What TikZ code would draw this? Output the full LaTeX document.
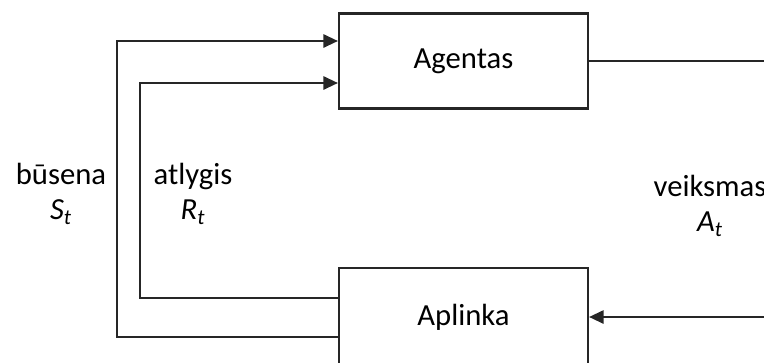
\documentclass[tikz,border=0pt]{standalone}
\usepackage{fontspec}
\setmainfont{Carlito}
\usetikzlibrary{arrows.meta}
\tikzset{
  block/.style={draw=black!85, line width=1.6pt, fill=white,
    minimum width=249*0.75pt, minimum height=95*0.75pt, inner sep=0pt,
    font=\fontsize{23}{26}\selectfont},
  link/.style={draw=black!85, line width=1.6pt},
  tip/.style={-{Triangle[length=11pt,width=10pt]}},
  lbl/.style={align=center, font=\fontsize{23}{26}\selectfont, inner sep=0pt}
}
\begin{document}
\begin{tikzpicture}[x=0.75pt, y=-0.75pt]
  \useasboundingbox (0,0) rectangle (764,362);
  \clip (0,0) rectangle (764,362);

  % the two blocks
  \node[block] (agent) at (463.5,61) {Agentas};
  \node[block, minimum height=98*0.75pt] (env) at (463.5,317) {Aplinka};

  % corner points of the feedback loops
  \coordinate (sOut) at ([yshift=-20*0.75pt]env.west);
  \coordinate (rOut) at ([yshift=19*0.75pt]env.west);
  \coordinate (sIn) at ([yshift=20*0.75pt]agent.west);
  \coordinate (rIn) at ([yshift=-22*0.75pt]agent.west);
  \coordinate (sx) at (117,0);
  \coordinate (rx) at (140,0);
  \coordinate (ax) at (800,0);

  % state S_t
  \draw[link, tip] (sOut) -- (sOut -| sx) -- (sIn -| sx) -- (sIn);
  % reward R_t
  \draw[link, tip] (rOut) -- (rOut -| rx) -- (rIn -| rx) -- (rIn);
  % action A_t
  \draw[link, tip] (agent.east) -- (agent.east -| ax) -- (env.east -| ax) -- (env.east);

  % labels
  \node[lbl] (state) at (61,194) {būsena\\\textit{S}\textsubscript{\textit{t}}};
  \node[lbl] (reward) at (193,194) {atlygis\\\textit{R}\textsubscript{\textit{t}}};
  \node[lbl] (action) at (710,206) {veiksmas\\\textit{A}\textsubscript{\textit{t}}};
\end{tikzpicture}
\end{document}
